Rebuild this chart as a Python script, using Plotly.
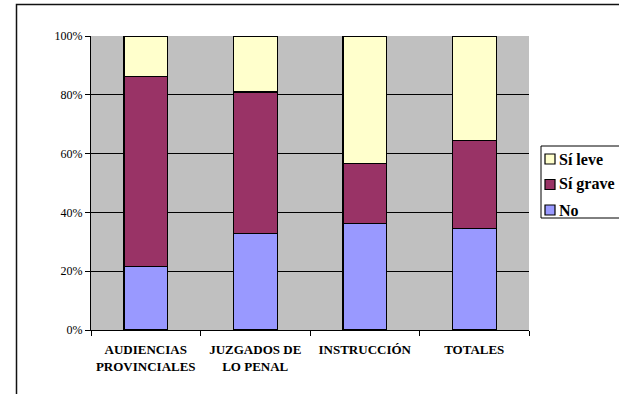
import plotly.graph_objects as go

categories = ["<b>AUDIENCIAS</b><br><b>PROVINCIALES</b>", "<b>JUZGADOS DE</b><br><b>LO PENAL</b>",
              "<b>INSTRUCCIÓN</b>", "<b>TOTALES</b>"]
no_vals = [21.5, 32.8, 36.3, 34.6]
grave_vals = [64.7, 48.2, 20.4, 29.8]
leve_vals = [13.8, 19.0, 43.3, 35.6]

series = [
    ("No", no_vals, "#9999FF"),
    ("Sí grave", grave_vals, "#993366"),
    ("Sí leve", leve_vals, "#FFFFCC"),
]

serif = "Times New Roman, Liberation Serif, serif"

# plot area in page pixels
W, H = 619, 394
L, R, T, B = 91, 529, 36, 330


def px_x(x):
    return (x - L) / (R - L)


def px_y(y):
    return (B - y) / (B - T)


fig = go.Figure()
for name, vals, color in series:
    fig.add_trace(go.Bar(
        x=categories, y=vals, name=name,
        marker=dict(color=color, line=dict(color="black", width=1.3)),
        width=0.4, showlegend=False,
    ))

# hand-made legend box (Excel style, cut at the right edge)
shapes = [
    dict(type="rect", xref="paper", yref="paper",
         x0=px_x(16.5), x1=px_x(W + 20), y0=px_y(H + 20), y1=px_y(4.5),
         line=dict(color="#111111", width=1.5), fillcolor="rgba(0,0,0,0)", layer="above"),
    dict(type="rect", xref="paper", yref="paper",
         x0=px_x(541), x1=px_x(W + 20), y0=px_y(218), y1=px_y(146),
         line=dict(color="black", width=1), fillcolor="white", layer="above"),
]
annotations = []
for i, (name, vals, color) in enumerate(reversed(series)):
    cy = 159 + i * 25.5
    shapes.append(dict(type="rect", xref="paper", yref="paper",
                       x0=px_x(545), x1=px_x(555), y0=px_y(cy + 5), y1=px_y(cy - 5),
                       line=dict(color="black", width=1.2), fillcolor=color, layer="above"))
    annotations.append(dict(xref="paper", yref="paper", x=px_x(557), y=px_y(cy),
                            xanchor="left", yanchor="middle", showarrow=False,
                            text=name, font=dict(family=serif, size=16, weight="bold")))

fig.update_layout(
    width=W, height=H,
    barmode="stack",
    margin=dict(l=L, r=W - R, t=T, b=H - B, autoexpand=False),
    paper_bgcolor="white",
    plot_bgcolor="#C0C0C0",
    font=dict(family=serif, color="black"),
    showlegend=False,
    shapes=shapes,
    annotations=annotations,
)

fig.update_xaxes(
    showline=True, linecolor="black", linewidth=1,
    ticks="outside", tickson="boundaries", ticklen=5, tickcolor="black",
    tickfont=dict(family=serif, size=13), ticklabelstandoff=7,
    showgrid=False,
)
fig.update_yaxes(
    range=[0, 100], tickvals=[0, 20, 40, 60, 80, 100],
    ticktext=["0%", "20%", "40%", "60%", "80%", "100%"],
    showline=True, linecolor="black", linewidth=1,
    ticks="outside", ticklen=5, tickcolor="black",
    showgrid=True, gridcolor="black", gridwidth=1,
    tickfont=dict(family=serif, size=12),
    zeroline=False,
)

fig.write_html("out.html", config={"displayModeBar": False},
               post_script="document.body.style.margin='0';")
